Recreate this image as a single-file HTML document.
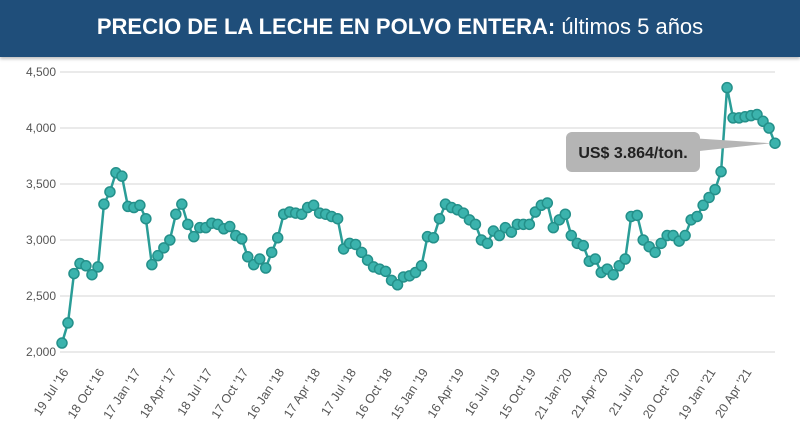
<!DOCTYPE html>
<html><head><meta charset="utf-8"><style>
body{margin:0;width:800px;height:436px;background:#fff;overflow:hidden;font-family:"Liberation Sans",sans-serif}
#hdr{position:absolute;left:0;top:0;width:800px;height:57px;background:#1f4e7a;color:#fff;text-align:center;line-height:54px;font-size:22px;box-shadow:0 2px 3px rgba(0,0,0,.25)}
svg{position:absolute;left:0;top:0}
</style></head><body>
<div id="hdr"><b>PRECIO DE LA LECHE EN POLVO ENTERA:</b> últimos 5 años</div>
<svg id="ch" width="800" height="436"></svg>
<script>
const yTicks=[2000,2500,3000,3500,4000,4500];
const yTickLabels=["2,000","2,500","3,000","3,500","4,000","4,500"];
const xLabels=["19 Jul '16","18 Oct '16","17 Jan '17","18 Apr '17","18 Jul '17","17 Oct '17","16 Jan '18","17 Apr '18","17 Jul '18","16 Oct '18","15 Jan '19","16 Apr '19","16 Jul '19","15 Oct '19","21 Jan '20","21 Apr '20","21 Jul '20","20 Oct '20","19 Jan '21","20 Apr '21"];
const prices=[2080,2260,2700,2790,2770,2690,2760,3320,3430,3600,3570,3300,3290,3310,3190,2780,2860,2930,3000,3230,3320,3140,3030,3110,3110,3150,3140,3100,3120,3040,3010,2850,2780,2830,2750,2890,3020,3230,3250,3240,3230,3290,3310,3240,3230,3210,3190,2920,2970,2960,2890,2820,2760,2740,2720,2640,2600,2670,2680,2710,2770,3030,3020,3190,3320,3290,3270,3240,3180,3140,3000,2970,3080,3040,3110,3070,3140,3140,3140,3250,3310,3330,3110,3180,3230,3040,2970,2950,2810,2830,2710,2740,2690,2770,2830,3210,3220,3000,2940,2890,2970,3040,3040,2990,3040,3180,3210,3310,3380,3450,3610,4360,4090,4090,4100,4110,4120,4060,4000,3864];
const NS="http://www.w3.org/2000/svg",svg=document.getElementById('ch');
const X0=62,X1=775,Y0=352,Y1=72;
const y=v=>Y0-(v-2000)/2500*(Y0-Y1);
const x=i=>X0+i*(X1-X0)/(prices.length-1);
function mk(t,a,p){const e=document.createElementNS(NS,t);for(const k in a)e.setAttribute(k,a[k]);(p||svg).appendChild(e);return e;}
yTicks.forEach((v,i)=>{
 const g=mk('line',{x1:60,x2:775,y1:y(v),y2:y(v),stroke:'#e3e3e3','stroke-width':1.5});
 
 
 const t=mk('text',{x:56,y:y(v)+4,'text-anchor':'end','font-size':12,fill:'#555'});
 t.textContent=yTickLabels[i];
 
 
});
xLabels.forEach((s,i)=>{
 const px=x(i*6)+7,py=372;
 const t=mk('text',{x:px,y:py,'text-anchor':'end','font-size':12.5,fill:'#555',transform:`rotate(-57 ${px} ${py})`});
 t.textContent=s;
 
 
});
const line=mk('polyline',{points:prices.map((v,i)=>x(i)+','+y(v)).join(' '),fill:'none',stroke:'#2a9d97','stroke-width':2.5});


prices.forEach((v,i)=>{
 const c=mk('circle',{cx:x(i),cy:y(v),r:5,fill:'#3bb3ad',stroke:'#24908a','stroke-width':1.5});
 
 
});
const lx=x(prices.length-1),ly=y(prices[prices.length-1]);
const tip=mk('g',{});


mk('path',{d:`M690 138 L${lx-4} ${ly} L690 152 Z`,fill:'#b5b5b5'},tip);
mk('rect',{x:566,y:132,width:134,height:40,rx:6,fill:'#b5b5b5'},tip);
const tt=mk('text',{x:633,y:158,'text-anchor':'middle','font-size':16,'font-weight':'bold',fill:'#222'},tip);
tt.textContent='US$ 3.864/ton.';
</script>
</body></html>
